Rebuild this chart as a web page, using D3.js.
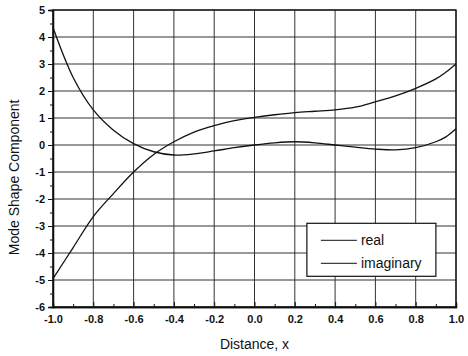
<!DOCTYPE html>
<html>
<head>
<meta charset="utf-8">
<script src="https://cdn.jsdelivr.net/npm/d3@7"></script>
<style>
  body { margin: 0; background: #fff; }
  text { font-family: 'Liberation Sans', Arial, sans-serif; fill: #111; }
</style>
</head>
<body>
<div id="chart"></div>
<script>
const xs = [-1.0, -0.9, -0.8, -0.7, -0.6, -0.5, -0.4, -0.3, -0.2, -0.1, 0.0, 0.1, 0.2, 0.3, 0.4, 0.5, 0.6, 0.7, 0.8, 0.9, 0.95, 1.0]
const realVals = [4.35, 2.5, 1.3, 0.55, 0.05, -0.25, -0.37, -0.33, -0.22, -0.1, 0.0, 0.08, 0.12, 0.08, 0.0, -0.08, -0.15, -0.18, -0.1, 0.12, 0.3, 0.6]
const imagVals = [-4.95, -3.8, -2.65, -1.8, -1.0, -0.35, 0.12, 0.48, 0.72, 0.9, 1.02, 1.12, 1.2, 1.25, 1.3, 1.4, 1.6, 1.82, 2.1, 2.45, 2.7, 3.0]
const xTicks = [-1.0, -0.8, -0.6, -0.4, -0.2, 0.0, 0.2, 0.4, 0.6, 0.8, 1.0]
const yTicks = [-6, -5, -4, -3, -2, -1, 0, 1, 2, 3, 4, 5]
const seriesNames = ['real', 'imaginary']

const margin = { top: 10, left: 53, right: 12, bottom: 49 }
const width = 468 - margin.left - margin.right
const height = 356 - margin.top - margin.bottom

const svg = d3
  .select('#chart')
  .append('svg')
  .attr('width', width + margin.left + margin.right)
  .attr('height', height + margin.top + margin.bottom)
  .append('g')
  .attr('transform', 'translate(' + margin.left + ',' + margin.top + ')')

const x = d3.scaleLinear().domain([-1, 1]).range([0, width])
const y = d3.scaleLinear().domain([-6, 5]).range([height, 0])

// plain hyphen for negatives, like the original
const fmtX = d => d3.format('.1f')(d).replace('−', '-')
const fmtY = d => d3.format('d')(d).replace('−', '-')

// grid
svg.append('g')
  .selectAll('line')
  .data(xTicks)
  .join('line')
  .attr('x1', d => x(d)).attr('x2', d => x(d))
  .attr('y1', 0).attr('y2', height)
  .attr('stroke', '#333').attr('stroke-width', 1)

svg.append('g')
  .selectAll('line')
  .data(yTicks)
  .join('line')
  .attr('y1', d => y(d)).attr('y2', d => y(d))
  .attr('x1', 0).attr('x2', width)
  .attr('stroke', '#333').attr('stroke-width', 1)

// axes
const xAxis = svg.append('g')
  .attr('transform', 'translate(0,' + height + ')')
  .call(d3.axisBottom(x).tickValues(xTicks).tickFormat(fmtX).tickSize(-5).tickPadding(8))
xAxis.append('g')
  .call(d3.axisBottom(x).tickValues(d3.range(-0.9, 1, 0.2)).tickSize(-3).tickFormat(''))

const yAxis = svg.append('g')
  .call(d3.axisLeft(y).tickValues(yTicks).tickFormat(fmtY).tickSize(5).tickPadding(3))
yAxis.append('g')
  .call(d3.axisLeft(y).tickValues(d3.range(-5.5, 5, 1)).tickSize(3).tickFormat(''))

svg.selectAll('.domain').attr('stroke', '#111').attr('stroke-width', 1.3)
svg.selectAll('.tick line').attr('stroke', '#111')
svg.selectAll('.tick text')
  .attr('font-size', 11)
  .attr('font-weight', 'bold')
  .attr('font-family', "'Liberation Sans', Arial, sans-serif")
  .attr('fill', '#222')

// frame
svg.append('rect')
  .attr('width', width).attr('height', height)
  .attr('fill', 'none').attr('stroke', '#111').attr('stroke-width', 1.3)

// curves
const line = d3.line()
  .x(d => x(d[0]))
  .y(d => y(d[1]))
  .curve(d3.curveCatmullRom)

;[realVals, imagVals].forEach(vals => {
  svg.append('path')
    .datum(xs.map((v, i) => [v, vals[i]]))
    .attr('d', line)
    .attr('fill', 'none')
    .attr('stroke', '#111')
    .attr('stroke-width', 1.3)
})

// legend
const legend = svg.append('g')
  .attr('transform', 'translate(' + (x(0.26)) + ',' + (y(-2.9)) + ')')

legend.append('rect')
  .attr('width', 129).attr('height', 53)
  .attr('fill', '#fff').attr('stroke', '#111').attr('stroke-width', 1.2)

seriesNames.forEach((name, i) => {
  legend.append('line')
    .attr('x1', 14).attr('x2', 50)
    .attr('y1', 17 + i * 23).attr('y2', 17 + i * 23)
    .attr('stroke', '#111').attr('stroke-width', 1)
  legend.append('text')
    .attr('x', 54).attr('y', 17 + i * 23)
    .attr('dy', '0.35em')
    .attr('font-size', 14)
    .text(name)
})

// axis titles
svg.append('text')
  .attr('x', x(0)).attr('y', height + 42)
  .attr('text-anchor', 'middle')
  .attr('font-size', 14)
  .text('Distance, x')

svg.append('text')
  .attr('transform', 'translate(' + (-34) + ',' + y(-1.2) + ') rotate(-90)')
  .attr('text-anchor', 'middle')
  .attr('font-size', 14)
  .text('Mode Shape Component')
</script>
</body>
</html>
